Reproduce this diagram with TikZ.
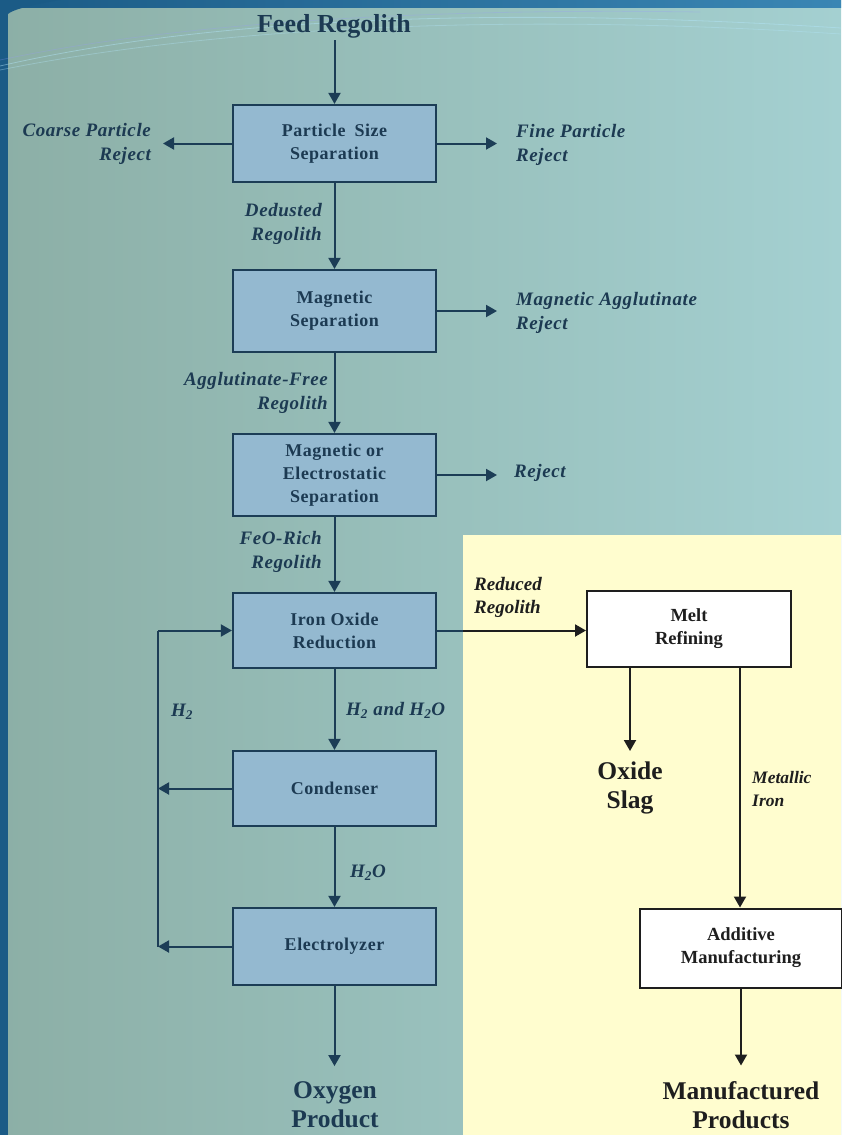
\documentclass[tikz,border=0pt]{standalone}
\usepackage{fontspec}
\setmainfont{Liberation Serif}
\newfontfamily\spc[LetterSpace=3]{Liberation Serif}
\usetikzlibrary{arrows.meta,positioning}
\definecolor{bgL}{HTML}{8CAFA6}
\definecolor{bgR}{HTML}{A4D0D1}
\definecolor{edgeblue}{HTML}{1B5B86}
\definecolor{edgeblueR}{HTML}{3A86B4}
\definecolor{boxfill}{HTML}{94B9D0}
\definecolor{boxline}{HTML}{1C3D56}
\definecolor{navy}{HTML}{1C3A52}
\definecolor{panel}{HTML}{FFFDCF}
\definecolor{ink}{HTML}{1E1E1E}
\tikzset{
  procbox/.style={draw=boxline, line width=2.2pt, fill=boxfill, text=navy, inner sep=0pt,
    minimum width=203pt, align=center, font=\spc\bfseries\fontsize{18}{23}\selectfont},
  wbox/.style={draw=ink, line width=2pt, fill=white, text=ink, inner sep=0pt,
    minimum width=203pt, align=center, font=\bfseries\fontsize{18.5}{23}\selectfont},
  lab/.style={text=navy, inner sep=0pt, font=\spc\bfseries\itshape\fontsize{19}{23.5}\selectfont},
  rlab/.style={text=ink, inner sep=0pt, font=\bfseries\itshape\fontsize{19}{23}\selectfont},
  bigl/.style={text=navy, inner sep=0pt, align=center, font=\bfseries\fontsize{25.5}{29}\selectfont},
  bigr/.style={text=ink, inner sep=0pt, align=center, font=\bfseries\fontsize{25.5}{29}\selectfont},
  arr/.style={draw=boxline, line width=2pt, -{Triangle[length=11pt,width=12pt]}},
  line/.style={draw=boxline, line width=2pt},
  rarr/.style={draw=ink, line width=2pt, -{Triangle[length=11pt,width=12pt]}},
}
\begin{document}
\begin{tikzpicture}[x=1pt,y=-1pt]
\useasboundingbox (0,0) rectangle (841,1135);
% background
\shade[left color=bgL, right color=bgR] (0,0) rectangle (841,1135);
\shade[left color=edgeblue, right color=edgeblueR] (0,0) rectangle (841,7);
\fill[edgeblue] (0,0) rectangle (8,1135);
\fill[edgeblue] (0,0) -- (60,0) .. controls (30,5) and (12,10) .. (8,14) -- (0,14) -- cycle;
\draw[white!70!cyan, opacity=0.45, line width=0.8pt] (0,66) .. controls (200,20) and (480,5) .. (841,28);
\draw[white!70!cyan, opacity=0.35, line width=0.8pt] (0,70) .. controls (210,28) and (500,12) .. (841,34);
\draw[white!60!blue, opacity=0.25, line width=0.8pt] (0,60) .. controls (180,22) and (430,8) .. (700,12);
% yellow panel
\fill[panel] (463,535) rectangle (841,1135);

% title
\node[text=navy, inner sep=0pt, font=\bfseries\fontsize{26}{28}\selectfont] (feed) at (334,26) {Feed Regolith};

% process boxes
\node[procbox, minimum height=77pt] (pss) at (334.5,143.5) {Particle\enspace Size\\Separation};
\node[procbox, minimum height=82pt] (mag) at (334.5,311) {Magnetic\\Separation};
\node[procbox, minimum height=82pt] (mes) at (334.5,475) {Magnetic or\\Electrostatic\\Separation};
\node[procbox, minimum height=75pt] (ior) at (334.5,630.5) {Iron Oxide\\Reduction};
\node[procbox, minimum height=75pt] (con) at (334.5,788.5) {Condenser};
\node[procbox, minimum height=77pt] (ele) at (334.5,946.5) {Electrolyzer};
\node[wbox, minimum width=204pt, minimum height=76pt] (melt) at (689,629) {Melt\\Refining};
\node[wbox, minimum width=202pt, minimum height=79pt] (add) at (741,948) {Additive\\Manufacturing};

% side labels
\node[lab, align=right, anchor=east] (coarse) at (151,144) {Coarse Particle\\Reject};
\node[lab, align=left, anchor=west] (fine) at (516,145) {Fine Particle\\Reject};
\node[lab, align=right, anchor=east] (dedust) at (322,224) {Dedusted\\Regolith};
\node[lab, align=left, anchor=west] (magrej) at (516,313) {Magnetic Agglutinate\\Reject};
\node[lab, align=right, anchor=east] (aggfree) at (328,393) {Agglutinate-Free\\Regolith};
\node[lab, anchor=west] (rej) at (514,473) {Reject};
\node[lab, align=right, anchor=east] (feo) at (322,552) {FeO-Rich\\Regolith};
\node[lab, anchor=west] (h2a) at (171,712) {H\textsubscript{2}};
\node[lab, anchor=west] (h2h2o) at (346,710) {H\textsubscript{2} and H\textsubscript{2}O};
\node[lab, anchor=west] (h2o) at (350,873) {H\textsubscript{2}O};
\node[rlab, align=left, anchor=west] (redreg) at (474,597) {Reduced\\Regolith};
\node[rlab, align=left, anchor=west, font=\bfseries\itshape\fontsize{17.5}{23}\selectfont] (metiron) at (752,789) {Metallic\\Iron};

% outputs
\node[bigl] (oxy) at (335,1105) {Oxygen\\Product};
\node[bigr] (slag) at (630,788) {Oxide\\Slag};
\node[bigr] (manu) at (741,1105) {Manufactured\\Products};

% free ends
\coordinate (fs) at (334.5,40);
\coordinate (cL) at (163,143.5);
\coordinate (fR) at (497,143.5);
\coordinate (mR) at (497,311);
\coordinate (rR) at (497,475);
\coordinate (loopTop) at (158,630.5);
\coordinate (loopMid) at (158,788.5);
\coordinate (loopBot) at (158,946.5);

% main chain
\draw[arr] (fs) -- (pss.north);
\draw[arr] (pss) -- (mag);
\draw[arr] (mag) -- (mes);
\draw[arr] (mes) -- (ior);
\draw[arr] (ior) -- (con);
\draw[arr] (con) -- (ele);
\draw[arr] (ele.south) -- ++(0,80);
% side rejects
\draw[arr] (pss.west) -- (cL);
\draw[arr] (pss.east) -- (fR);
\draw[arr] (mag.east) -- (mR);
\draw[arr] (mes.east) -- (rR);
% H2 loop
\draw[line] (loopBot) -- (loopTop);
\draw[arr] (loopTop) -- (ior.west);
\draw[arr] (con.west) -- (loopMid);
\draw[arr] (ele.west) -- (loopBot);
% to melt refining
\draw[line] (ior.east) -- (463,630.5);
\draw[rarr] (463,630.5) -- (melt.west |- 0,630.5);
% right branch
\draw[rarr] ([xshift=-59pt]melt.south) -- ++(0,83);
\draw[rarr] ([xshift=51pt]melt.south) -- (add.north -| 740,0);
\draw[rarr] (add.south) -- ++(0,77);
\end{tikzpicture}
\end{document}
